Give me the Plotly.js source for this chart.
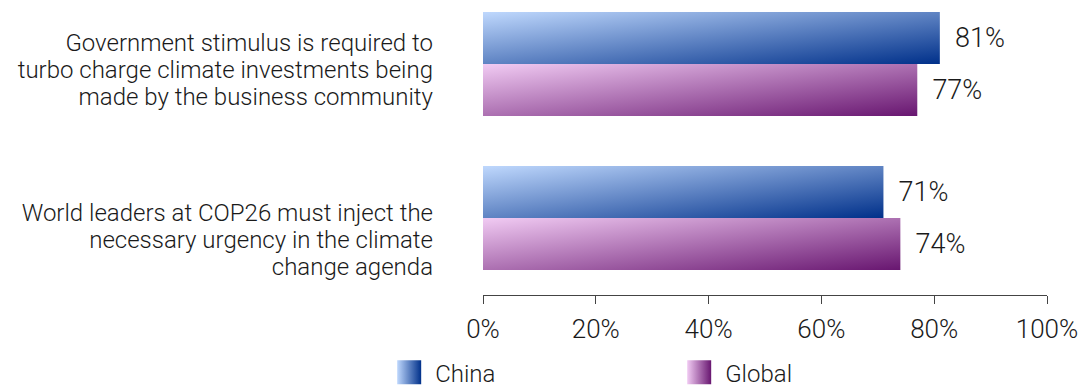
<!DOCTYPE html>
<html>
<head>
<meta charset="utf-8">
<script src="https://cdn.plot.ly/plotly-3.0.1.min.js"></script>
<style>html,body{margin:0;padding:0;background:#fff;}</style>
</head>
<body>
<div id="chart" style="width:1085px;height:388px;"></div>
<script>
const categories = [
  "Government stimulus is required to<br>turbo charge climate investments being<br>made by the business community",
  "World leaders at COP26 must inject the<br>necessary urgency in the climate<br>change agenda"
];
const seriesNames = ["China", "Global"];
const chinaValues = [81, 71];
const globalValues = [77, 74];
const xTickValues = [0, 20, 40, 60, 80, 100];
const xTickLabels = ["0%", "20%", "40%", "60%", "80%", "100%"];

// style constants
const FONT = "Roboto, Liberation Sans, Arial, sans-serif";
const WEIGHT = 300;
const TEXTCOL = "#1a1a1a";
const LABEL_LINE_SPACING = 1.11;      // em, category label line spacing
const LABEL_SHIFTS = [6, 22];         // px, vertical offset of category labels from band centre

function barTrace(name, vals, color) {
  return {
    type: "bar", orientation: "h", name: name,
    x: vals, y: categories,
    marker: {color: color, line: {width: 0}},
    text: vals.map(v => "\u00a0\u2009" + v + "%"),
    textposition: "outside", cliponaxis: false,
    textfont: {family: FONT, size: 27, color: TEXTCOL, weight: WEIGHT},
    hoverinfo: "skip"
  };
}

const data = [
  barTrace(seriesNames[0], chinaValues, "#4f78c4"),
  barTrace(seriesNames[1], globalValues, "#a35ea8")
];

const layout = {
  width: 1085, height: 388,
  margin: {l: 483, r: 38, t: 0, b: 93, pad: 0, autoexpand: false},
  paper_bgcolor: "#ffffff", plot_bgcolor: "#ffffff",
  font: {family: FONT, size: 24, color: TEXTCOL, weight: WEIGHT},
  barmode: "group", bargap: 0.325, bargroupgap: 0,
  showlegend: true,
  legend: {
    orientation: "h", x: -0.1557, xanchor: "left", y: -0.263, yanchor: "middle",
    entrywidth: 245, entrywidthmode: "pixels",
    font: {family: FONT, size: 24, color: TEXTCOL, weight: WEIGHT},
    traceorder: "normal", itemclick: false, itemdoubleclick: false
  },
  xaxis: {
    range: [0, 100], tickvals: xTickValues, ticktext: xTickLabels,
    showgrid: false, zeroline: false, showline: true, linecolor: "#444444", linewidth: 1,
    ticks: "outside", ticklen: 8, tickcolor: "#444444", tickwidth: 1,
    ticklabelstandoff: 3,
    tickfont: {family: FONT, size: 26, color: TEXTCOL, weight: WEIGHT},
    fixedrange: true
  },
  yaxis: {
    type: "category", range: [1.5, -0.4156],
    showgrid: false, zeroline: false, showline: false, ticks: "",
    ticklabelstandoff: 49,
    tickfont: {family: FONT, size: 24, color: TEXTCOL, weight: WEIGHT},
    fixedrange: true
  }
};

const gradients = [
  {id: "gradChina", from: "#bfd8fd", to: "#00308a"},
  {id: "gradGlobal", from: "#f1cbf3", to: "#681670"}
];

function applyStyling(gd) {
  const svg = gd.querySelector("svg.main-svg");
  const ns = "http://www.w3.org/2000/svg";
  let defs = svg.querySelector("defs");
  if (!defs) { defs = document.createElementNS(ns, "defs"); svg.insertBefore(defs, svg.firstChild); }
  function addGrad(id, from, to, diag) {
    const lg = document.createElementNS(ns, "linearGradient");
    lg.setAttribute("id", id);
    lg.setAttribute("x1", "0"); lg.setAttribute("y1", "0");
    lg.setAttribute("x2", "1"); lg.setAttribute("y2", diag ? "1" : "0");
    [[0, from], [1, to]].forEach(([o, c]) => {
      const s = document.createElementNS(ns, "stop");
      s.setAttribute("offset", String(o)); s.setAttribute("stop-color", c);
      lg.appendChild(s);
    });
    defs.appendChild(lg);
  }
  gradients.forEach(g => {
    addGrad(g.id, g.from, g.to, true);
    addGrad(g.id + "Legend", g.from, g.to, false);
  });
  gd.querySelectorAll(".barlayer .trace.bars").forEach((t, i) => {
    t.querySelectorAll(".point path").forEach(p => { p.style.fill = "url(#" + gradients[i].id + ")"; });
  });
  gd.querySelectorAll(".legend .traces").forEach((it, i) => {
    it.querySelectorAll(".legendpoints path").forEach(p => {
      p.setAttribute("d", "M6,12H-18V-12H6Z");
      p.style.fill = "url(#" + gradients[i].id + "Legend)";
      p.style.stroke = "none";
    });
  });
  // category labels: tighter line spacing and vertical offset
  const ya = gd._fullLayout.yaxis;
  const svgTop = svg.getBoundingClientRect().top;
  gd.querySelectorAll(".yaxislayer-above .ytick").forEach(g => {
    const txt = g.querySelector("text");
    if (!txt) return;
    const d = g.__data__ || {};
    let idx = (typeof d.x === "number") ? d.x : categories.indexOf(d.text);
    if (idx < 0) return;
    txt.querySelectorAll("tspan.line").forEach((ts, j) => {
      ts.setAttribute("dy", (j * LABEL_LINE_SPACING) + "em");
    });
    const r = txt.getBoundingClientRect();
    const cur = (r.top + r.bottom) / 2 - svgTop;
    const target = ya._offset + ya.c2p(idx) + (LABEL_SHIFTS[idx] || 0);
    const tr = txt.getAttribute("transform") || "";
    txt.setAttribute("transform", tr + " translate(0," + (target - cur).toFixed(2) + ")");
  });
}

Plotly.newPlot("chart", data, layout, {displayModeBar: false, staticPlot: true}).then(applyStyling);
</script>
</body>
</html>
